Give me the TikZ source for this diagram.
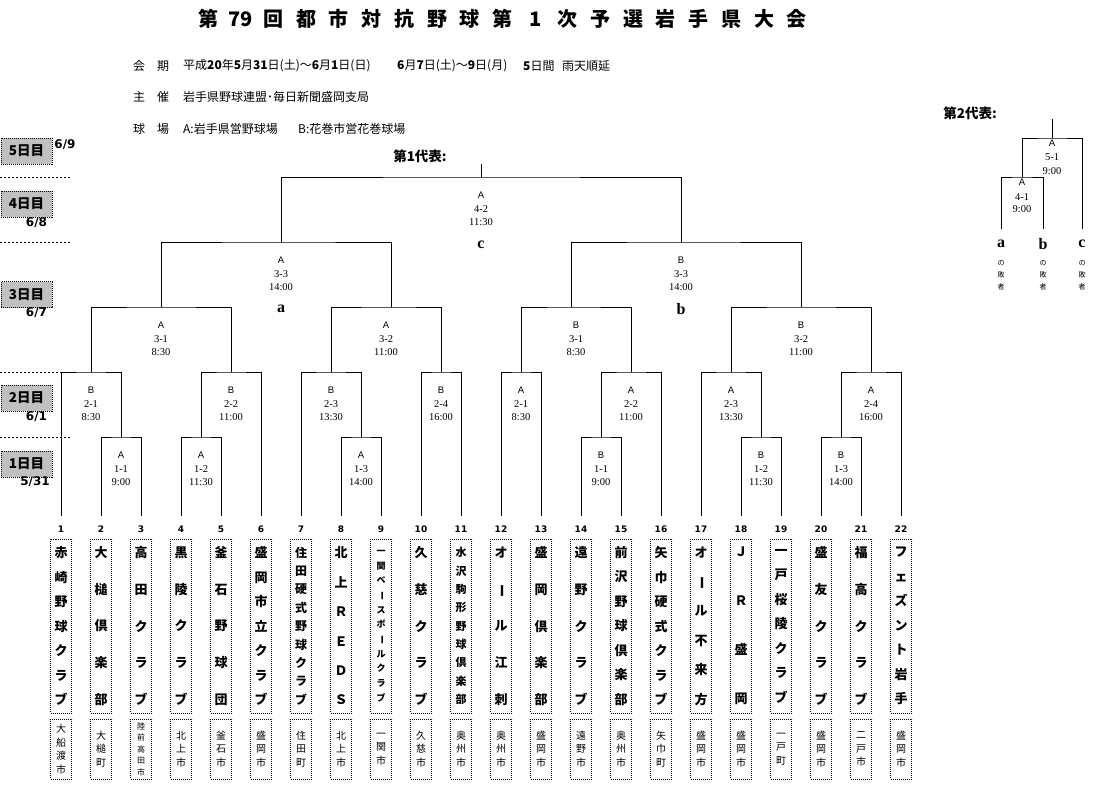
\documentclass[tikz,border=0pt]{standalone}
\usepackage{fontspec}
\usepackage{graphicx}
\setmainfont{Liberation Serif}
\newfontfamily\jp{Noto Sans CJK JP}
\newfontfamily\dv{DejaVu Sans}
\newfontfamily\lsans{Liberation Sans}
\newcommand\fs[2]{\fontsize{#1}{#2}\selectfont}
\newcommand\vbar{\rotatebox[origin=c]{-90}{ー}}
\definecolor{daygray}{RGB}{192,192,192}
\tikzset{
  br/.style={line width=1pt},
  sepline/.style={line width=0.8pt, dash pattern=on 2pt off 2pt},
  dotbox/.style={draw, line width=0.9pt, dash pattern=on 1pt off 1pt},
  daybox/.style={dotbox, fill=daygray, minimum width=51pt, minimum height=26pt, inner sep=0pt, font=\jp\bfseries\fs{13.5}{13.5}},
  datelab/.style={inner sep=0pt, font=\dv\bfseries\fs{12}{12}},
  ven/.style={inner sep=0pt, font=\lsans\fs{9.5}{9.5}},
  mid/.style={inner sep=0pt, font=\fs{10.5}{10.5}},
  letter/.style={inner sep=0pt, font=\bfseries\fs{16}{16}},
  num/.style={inner sep=0pt, font=\dv\bfseries\fs{9}{9}},
  tbox/.style={dotbox, minimum width=21pt, minimum height=174pt, inner sep=0pt, align=center},
  cbox/.style={dotbox, minimum width=21pt, minimum height=60pt, inner sep=0pt, align=center},
  hdr/.style={inner sep=0pt, anchor=west, font=\jp\fs{12}{12}},
  rep/.style={inner sep=0pt, font=\jp\bfseries\fs{13.5}{13.5}},
  small/.style={inner sep=0pt, align=center, font=\jp\fs{7}{12}},
}
% match label: name, x, top y, venue, id, time, offset1, offset2, offset3
\newcommand\mlab[9]{%
  \node[ven] (#1v) at (#2,#3+#7) {#4};
  \node[mid] (#1n) at (#2,#3+#8) {#5};
  \node[mid] (#1t) at (#2,#3+#9) {#6};}
% team: index, name font size, name baselineskip, name lines, city font spec, city lines
\newcommand\team[6]{%
  \node[num] (no#1) at ({21+40*#1},529) {#1};
  \node[tbox, font=\jp\bfseries\fs{#2}{#3}] (tm#1) at ({21+40*#1},626) {#4};
  \node[cbox, font=\jp\fs#5] (ct#1) at ({21+40*#1},749) {#6};}
\begin{document}
\begin{tikzpicture}[x=1pt,y=-1pt]
\useasboundingbox (0,0) rectangle (1103,806);
\fill[white] (0,0) rectangle (1103,806);

% title
\node[inner sep=0pt, anchor=west, font=\jp\bfseries\fs{20}{20}] (title) at (191.6,19)
  {\foreach \c in {第,79,回,都,市,対,抗,野,球,第,1,次,予,選,岩,手,県,大,会}{\makebox[32.7pt]{\c}}};

% header
\node[hdr] (h1a) at (133,66) {会　期};
\node[hdr] (h1b) at (183,66) {平成\textbf{20}年\textbf{5}月\textbf{31}日(土)～\textbf{6}月\textbf{1}日(日)};
\node[hdr] (h1c) at (397,66) {\textbf{6}月\textbf{7}日(土)～\textbf{9}日(月)};
\node[hdr] (h1d) at (523,66) {\textbf{5}日間};
\node[hdr] (h1e) at (562,66) {雨天順延};
\node[hdr] (h2a) at (133,97) {主　催};
\node[hdr] (h2b) at (183,97) {岩手県野球連盟･毎日新聞盛岡支局};
\node[hdr] (h3a) at (133,129) {球　場};
\node[hdr] (h3b) at (183,129) {A:岩手県営野球場};
\node[hdr] (h3c) at (298,129) {B:花巻市営花巻球場};

% day boxes
\node[daybox] (d5) at (26.5,151) {5日目};
\node[datelab] (d5d) at (65,145) {6/9};
\node[daybox] (d4) at (26.5,204) {4日目};
\node[datelab] (d4d) at (36.5,223) {6/8};
\node[daybox] (d3) at (26.5,294.5) {3日目};
\node[datelab] (d3d) at (36.5,313) {6/7};
\node[daybox] (d2) at (26.5,398) {2日目};
\node[datelab] (d2d) at (36.5,417) {6/1};
\node[daybox] (d1) at (26.5,464) {1日目};
\node[datelab] (d1d) at (35,482) {5/31};
\draw[sepline] (0,177) -- (71,177);
\draw[sepline] (0,242) -- (71,242);
\draw[sepline] (0,372) -- (71,372);
\draw[sepline] (0,437) -- (71,437);

% team leg ends
\foreach \k in {1,...,22} \coordinate (t\k) at ({21+40*\k},516);

% match tops
\coordinate (a11) at (121,437); \coordinate (a12) at (201,437); \coordinate (a13) at (361,437);
\coordinate (b11) at (601,437); \coordinate (b12) at (761,437); \coordinate (b13) at (841,437);
\coordinate (a21) at (91,372);  \coordinate (a22) at (231,372); \coordinate (a23) at (331,372); \coordinate (a24) at (441,372);
\coordinate (b21) at (521,372); \coordinate (b22) at (631,372); \coordinate (b23) at (731,372); \coordinate (b24) at (871,372);
\coordinate (a31) at (161,307); \coordinate (a32s) at (391,307);
\coordinate (b31s) at (571,307); \coordinate (b32) at (801,307);
\coordinate (a33) at (281,242); \coordinate (b33) at (681,242);
\coordinate (f42) at (481,177); \coordinate (top1) at (481,164);

% bracket
\draw[br] (t2) |- (a11) -| (t3);
\draw[br] (t4) |- (a12) -| (t5);
\draw[br] (t8) |- (a13) -| (t9);
\draw[br] (t14) |- (b11) -| (t15);
\draw[br] (t18) |- (b12) -| (t19);
\draw[br] (t20) |- (b13) -| (t21);
\draw[br] (t1) |- (a21) -| (a11);
\draw[br] (a12) |- (a22) -| (t6);
\draw[br] (t7) |- (a23) -| (a13);
\draw[br] (t10) |- (a24) -| (t11);
\draw[br] (t12) |- (b21) -| (t13);
\draw[br] (b11) |- (b22) -| (t16);
\draw[br] (t17) |- (b23) -| (b12);
\draw[br] (b13) |- (b24) -| (t22);
\draw[br] (a21) |- (a31) -| (a22);
\draw[br] (a23) |- (a32s) -| (a24);
\draw[br] (b21) |- (b31s) -| (b22);
\draw[br] (b23) |- (b32) -| (b24);
\draw[br] (a31) |- (a33) -| (a32s);
\draw[br] (b31s) |- (b33) -| (b32);
\draw[br] (a33) |- (f42) -| (b33);
\draw[br] (f42) -- (top1);

% labels
\mlab{la11}{121}{437}{A}{1-1}{9:00}{18}{32}{45}
\mlab{la12}{201}{437}{A}{1-2}{11:30}{18}{32}{45}
\mlab{la13}{361}{437}{A}{1-3}{14:00}{18}{32}{45}
\mlab{lb11}{601}{437}{B}{1-1}{9:00}{18}{32}{45}
\mlab{lb12}{761}{437}{B}{1-2}{11:30}{18}{32}{45}
\mlab{lb13}{841}{437}{B}{1-3}{14:00}{18}{32}{45}
\mlab{la21}{91}{372}{B}{2-1}{8:30}{18}{32}{45}
\mlab{la22}{231}{372}{B}{2-2}{11:00}{18}{32}{45}
\mlab{la23}{331}{372}{B}{2-3}{13:30}{18}{32}{45}
\mlab{la24}{441}{372}{B}{2-4}{16:00}{18}{32}{45}
\mlab{lb21}{521}{372}{A}{2-1}{8:30}{18}{32}{45}
\mlab{lb22}{631}{372}{A}{2-2}{11:00}{18}{32}{45}
\mlab{lb23}{731}{372}{A}{2-3}{13:30}{18}{32}{45}
\mlab{lb24}{871}{372}{A}{2-4}{16:00}{18}{32}{45}
\mlab{la31}{161}{307}{A}{3-1}{8:30}{18}{32}{45}
\mlab{la32}{386}{307}{A}{3-2}{11:00}{18}{32}{45}
\mlab{lb31}{576}{307}{B}{3-1}{8:30}{18}{32}{45}
\mlab{lb32}{801}{307}{B}{3-2}{11:00}{18}{32}{45}
\mlab{la33}{281}{242}{A}{3-3}{14:00}{18}{32}{45}
\mlab{lb33}{681}{242}{B}{3-3}{14:00}{18}{32}{45}
\mlab{lf42}{481}{177}{A}{4-2}{11:30}{18}{32}{45}
\node[letter] (la) at (281,309) {a};
\node[letter] (lb) at (681,309) {b};
\node[letter] (lc) at (481,245) {c};
\node[rep] (rep1) at (420,156) {第1代表:};

% second representative bracket
\node[rep] (rep2) at (970,113) {第2代表:};
\coordinate (ra) at (1001,229); \coordinate (rb) at (1043,229); \coordinate (rc) at (1082,229);
\coordinate (r41) at (1022,177); \coordinate (r51) at (1052,138); \coordinate (top2) at (1052,119);
\draw[br] (ra) |- (r41) -| (rb);
\draw[br] (r41) |- (r51) -| (rc);
\draw[br] (r51) -- (top2);
\mlab{lr41}{1022}{177}{A}{4-1}{9:00}{5}{20}{32}
\mlab{lr51}{1052}{138}{A}{5-1}{9:00}{5}{19}{33}
\node[letter] (ra1) at (1001,244) {a};
\node[letter] (rb1) at (1043,244) {b};
\node[letter] (rc1) at (1082,244) {c};
\node[small] (ra2) at (1001,275) {の\\敗\\者};
\node[small] (rb2) at (1043,275) {の\\敗\\者};
\node[small] (rc2) at (1082,275) {の\\敗\\者};

% teams
\team{1}{13}{24.5}{赤\\崎\\野\\球\\ク\\ラ\\ブ}{{10}{13.5}}{大\\船\\渡\\市}
\team{2}{13}{36.75}{大\\槌\\倶\\楽\\部}{{10}{13.5}}{大\\槌\\町}
\team{3}{13}{36.75}{高\\田\\ク\\ラ\\ブ}{{8}{11.5}}{陸\\前\\高\\田\\市}
\team{4}{13}{36.75}{黒\\陵\\ク\\ラ\\ブ}{{10}{13.5}}{北\\上\\市}
\team{5}{13}{36.75}{釜\\石\\野\\球\\団}{{10}{13.5}}{釜\\石\\市}
\team{6}{13}{24.5}{盛\\岡\\市\\立\\ク\\ラ\\ブ}{{10}{13.5}}{盛\\岡\\市}
\team{7}{12}{18.375}{住\\田\\硬\\式\\野\\球\\ク\\ラ\\ブ}{{10}{13.5}}{住\\田\\町}
\team{8}{13}{29.4}{北\\上\\Ｒ\\Ｅ\\Ｄ\\Ｓ}{{10}{13.5}}{北\\上\\市}
\team{9}{9}{14.7}{一\\関\\ベ\\\vbar\\ス\\ボ\\\vbar\\ル\\ク\\ラ\\ブ}{{10}{13.5}}{一\\関\\市}
\team{10}{13}{36.75}{久\\慈\\ク\\ラ\\ブ}{{10}{13.5}}{久\\慈\\市}
\team{11}{11}{18.375}{水\\沢\\駒\\形\\野\\球\\倶\\楽\\部}{{10}{13.5}}{奥\\州\\市}
\team{12}{13}{36.75}{オ\\\vbar\\ル\\江\\刺}{{10}{13.5}}{奥\\州\\市}
\team{13}{13}{36.75}{盛\\岡\\倶\\楽\\部}{{10}{13.5}}{盛\\岡\\市}
\team{14}{13}{36.75}{遠\\野\\ク\\ラ\\ブ}{{10}{13.5}}{遠\\野\\市}
\team{15}{13}{24.5}{前\\沢\\野\\球\\倶\\楽\\部}{{10}{13.5}}{奥\\州\\市}
\team{16}{13}{24.5}{矢\\巾\\硬\\式\\ク\\ラ\\ブ}{{10}{13.5}}{矢\\巾\\町}
\team{17}{13}{29.4}{オ\\\vbar\\ル\\不\\来\\方}{{10}{13.5}}{盛\\岡\\市}
\team{18}{13}{49}{Ｊ\\Ｒ\\盛\\岡}{{10}{13.5}}{盛\\岡\\市}
\team{19}{13}{24.5}{一\\戸\\桜\\陵\\ク\\ラ\\ブ}{{10}{13.5}}{一\\戸\\町}
\team{20}{13}{36.75}{盛\\友\\ク\\ラ\\ブ}{{10}{13.5}}{盛\\岡\\市}
\team{21}{13}{36.75}{福\\高\\ク\\ラ\\ブ}{{10}{13.5}}{二\\戸\\市}
\team{22}{13}{24.5}{フ\\ェ\\ズ\\ン\\ト\\岩\\手}{{10}{13.5}}{盛\\岡\\市}
\end{tikzpicture}
\end{document}
